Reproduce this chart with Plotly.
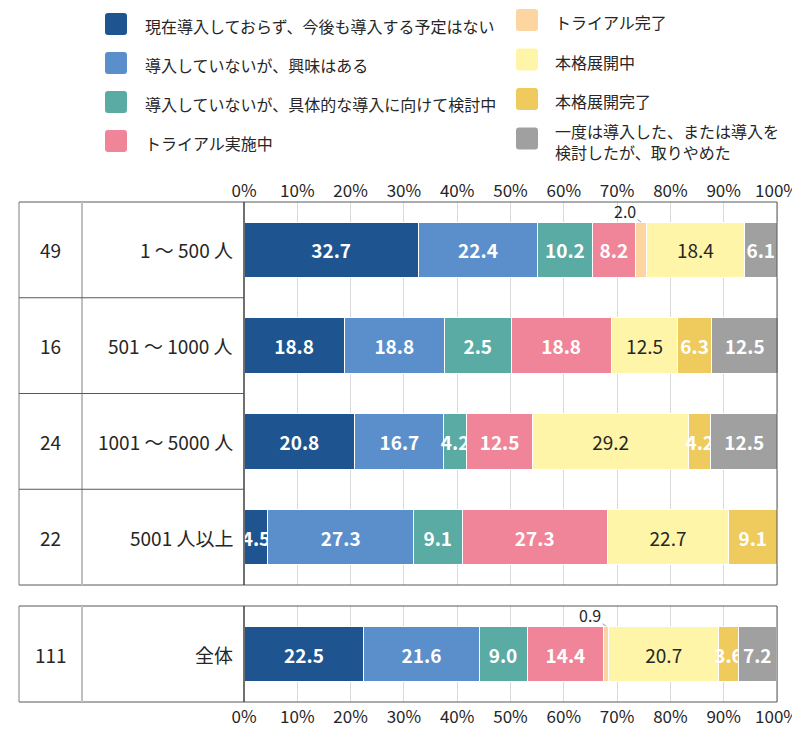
import plotly.graph_objects as go

# the page puts the figure 8px in from the top-left corner
OFF = 8
FW, FH = 800, 730 - OFF
FONT = "Noto Sans CJK JP"

# ---- data ----
series_names = [
    "現在導入しておらず、今後も導入する予定はない",
    "導入していないが、興味はある",
    "導入していないが、具体的な導入に向けて検討中",
    "トライアル実施中",
    "トライアル完了",
    "本格展開中",
    "本格展開完了",
    "一度は導入した、または導入を<br>検討したが、取りやめた",
]
colors = ["#1E5490", "#5B8FCB", "#5AABA4", "#F0859A",
          "#FDD5A1", "#FFF5A8", "#EFCA5D", "#A0A0A0"]

groups = ["1 ～ 500 人", "501 ～ 1000 人", "1001 ～ 5000 人", "5001 人以上"]
group_n = [49, 16, 24, 22]
total_group = ["全体"]
total_n = [111]

no_plan = [32.7, 18.8, 20.8, 4.5]
interested = [22.4, 18.8, 16.7, 27.3]
considering = [10.2, 12.5, 4.2, 9.1]
trial_running = [8.2, 18.8, 12.5, 27.3]
trial_done = [2.0, 0, 0, 0]
rollout = [18.4, 12.5, 29.2, 22.7]
rollout_done = [0, 6.3, 4.2, 9.1]
stopped = [6.1, 12.5, 12.5, 0]
group_values = [no_plan, interested, considering, trial_running,
                trial_done, rollout, rollout_done, stopped]

total_values = [22.5, 21.6, 9.0, 14.4, 0.9, 20.7, 3.6, 7.2]

# the source chart prints this one label differently from its bar length
label_fix = {(2, 1): "2.5"}

OUTSIDE = 4          # series whose labels sit above the bar with a leader
DARK_TEXT = {5}      # series with dark labels

tick_vals = list(range(0, 101, 10))
tick_text = [f"{v}%" for v in tick_vals]


def px(x):
    return (x - OFF) / FW


def py(y):
    return 1 - (y - OFF) / FH


# geometry in screen pixels
X_LEFT, X_COL, X_AXIS, X_RIGHT = 19, 82, 244, 777
MAIN_TOP, MAIN_BOT = 202, 585
TOT_TOP, TOT_BOT = 606, 702
BAR_W = 0.58
X_MAX = 100.3   # rows round to a little over 100
X_END = X_AXIS + (X_RIGHT - X_AXIS) * X_MAX / 100

fig = go.Figure()


def labels_for(vals, si, row_offset=0):
    out = []
    for ri, v in enumerate(vals):
        if v == 0 or si == OUTSIDE:
            out.append("")
        else:
            out.append(label_fix.get((si, ri + row_offset), f"{v:.1f}"))
    return out


for si, name in enumerate(series_names):
    tcolor = "#262626" if si in DARK_TEXT else "white"
    tweight = "normal" if si in DARK_TEXT else "bold"
    common = dict(
        orientation="h",
        marker=dict(color=colors[si], line=dict(color="white", width=1)),
        textposition="inside",
        insidetextanchor="middle",
        textangle=0,
        textfont=dict(family=FONT, size=19, color=tcolor, weight=tweight),
        showlegend=False,
        name=name,
        width=BAR_W,
        cliponaxis=False,
    )
    fig.add_trace(go.Bar(x=group_values[si], y=groups,
                         text=labels_for(group_values[si], si),
                         xaxis="x", yaxis="y", **common))
    fig.add_trace(go.Bar(x=[total_values[si]], y=total_group,
                         text=labels_for([total_values[si]], si, 100),
                         xaxis="x2", yaxis="y2", **common))

axis_common = dict(
    range=[0, X_MAX], tickvals=tick_vals, ticktext=tick_text,
    showgrid=True, gridcolor="#D9D9D9", gridwidth=1, zeroline=False,
    showline=False, ticks="", fixedrange=True, automargin=False,
    ticklabeloverflow="allow",
    tickfont=dict(family=FONT, size=17, color="#262626"),
    domain=[px(X_AXIS), px(X_END)],
)

fig.update_layout(
    width=FW, height=FH,
    margin=dict(l=0, r=0, t=0, b=0, autoexpand=False),
    paper_bgcolor="white", plot_bgcolor="white",
    barmode="stack",
    uniformtext=dict(minsize=19, mode="show"),
    xaxis=dict(anchor="y", side="top", ticklabelstandoff=1, **axis_common),
    yaxis=dict(domain=[py(MAIN_BOT), py(MAIN_TOP)], categoryorder="array",
               categoryarray=groups, autorange="reversed",
               showticklabels=False, showgrid=False, zeroline=False,
               fixedrange=True, automargin=False),
    xaxis2=dict(anchor="y2", side="bottom", ticklabelstandoff=3, **axis_common),
    yaxis2=dict(domain=[py(TOT_BOT), py(TOT_TOP)], autorange="reversed",
                showticklabels=False, showgrid=False, zeroline=False,
                fixedrange=True, automargin=False),
)

# ---- table frame ----
shapes = []


def line(x0, y0, x1, y1, color="#595959", width=1):
    shapes.append(dict(type="line", xref="paper", yref="paper",
                       x0=px(x0), y0=py(y0), x1=px(x1), y1=py(y1),
                       line=dict(color=color, width=width), layer="above"))


for top, bot, nrows in [(MAIN_TOP, MAIN_BOT, len(groups)), (TOT_TOP, TOT_BOT, 1)]:
    line(X_LEFT, top, X_RIGHT, top)
    line(X_LEFT, bot, X_RIGHT, bot)
    line(X_LEFT, top, X_LEFT, bot, color="#7F7F7F")
    line(X_RIGHT, top, X_RIGHT, bot)
    line(X_COL, top, X_COL, bot, color="#BFBFBF", width=2)
    line(X_AXIS, top, X_AXIS, bot, color="#404040", width=1.5)
    step = (bot - top) / nrows
    for k in range(1, nrows):
        line(X_LEFT, top + k * step, X_AXIS, top + k * step)

annotations = []
for grp, n, yref in ([(g, n, "y") for g, n in zip(groups, group_n)]
                     + [(total_group[0], total_n[0], "y2")]):
    annotations.append(dict(x=px((X_LEFT + X_COL) / 2), y=grp, xref="paper", yref=yref,
                            text=str(n), showarrow=False, xanchor="center",
                            font=dict(family=FONT, size=19, color="#262626")))
    annotations.append(dict(x=px(X_AXIS - 9), y=grp, xref="paper", yref=yref,
                            text=grp, showarrow=False, xanchor="right",
                            font=dict(family=FONT, size=19, color="#262626")))

# small segments labelled above the bar
for vals, xr, yr, stack in [(trial_done, "x", "y", group_values),
                            ([total_values[OUTSIDE]], "x2", "y2",
                             [[v] for v in total_values])]:
    for ri, v in enumerate(vals):
        if v == 0:
            continue
        start = sum(stack[s][ri] for s in range(OUTSIDE))
        annotations.append(dict(
            x=start + v / 2, y=ri - BAR_W / 2, xref=xr, yref=yr,
            text=f"{v:.1f}", showarrow=True, arrowhead=0, arrowwidth=0.8,
            arrowcolor="#7F7F7F", ax=-16, ay=-11, standoff=0,
            font=dict(family=FONT, size=16, color="#262626")))

# ---- legend drawn by hand (two columns) ----
def rounded_rect(x0, y0, x1, y1, r=3):
    X0, X1 = px(x0), px(x1)
    Y0, Y1 = py(y0), py(y1)
    rx, ry = r / FW, r / FH
    return (f"M {X0 + rx},{Y0} L {X1 - rx},{Y0} Q {X1},{Y0} {X1},{Y0 - ry} "
            f"L {X1},{Y1 + ry} Q {X1},{Y1} {X1 - rx},{Y1} "
            f"L {X0 + rx},{Y1} Q {X0},{Y1} {X0},{Y1 + ry} "
            f"L {X0},{Y0 - ry} Q {X0},{Y0} {X0 + rx},{Y0} Z")


legend_cols = [(105, 143, 24, 39), (516, 553, 20, 39.5)]
for si, name in enumerate(series_names):
    mx, tx, y0, dy = legend_cols[si // 4]
    cy = y0 + (si % 4) * dy
    shapes.append(dict(type="path", xref="paper", yref="paper",
                       path=rounded_rect(mx, cy - 11, mx + 22, cy + 11),
                       fillcolor=colors[si], line=dict(width=0)))
    ty = cy + 2 if "<br>" not in name else cy + 3
    annotations.append(dict(x=px(tx), y=py(ty), xref="paper", yref="paper",
                            text=name, showarrow=False, xanchor="left",
                            yanchor="middle", align="left",
                            font=dict(family=FONT, size=16, color="#262626")))

fig.update_layout(shapes=shapes, annotations=annotations)

fig.write_html("out.html")
